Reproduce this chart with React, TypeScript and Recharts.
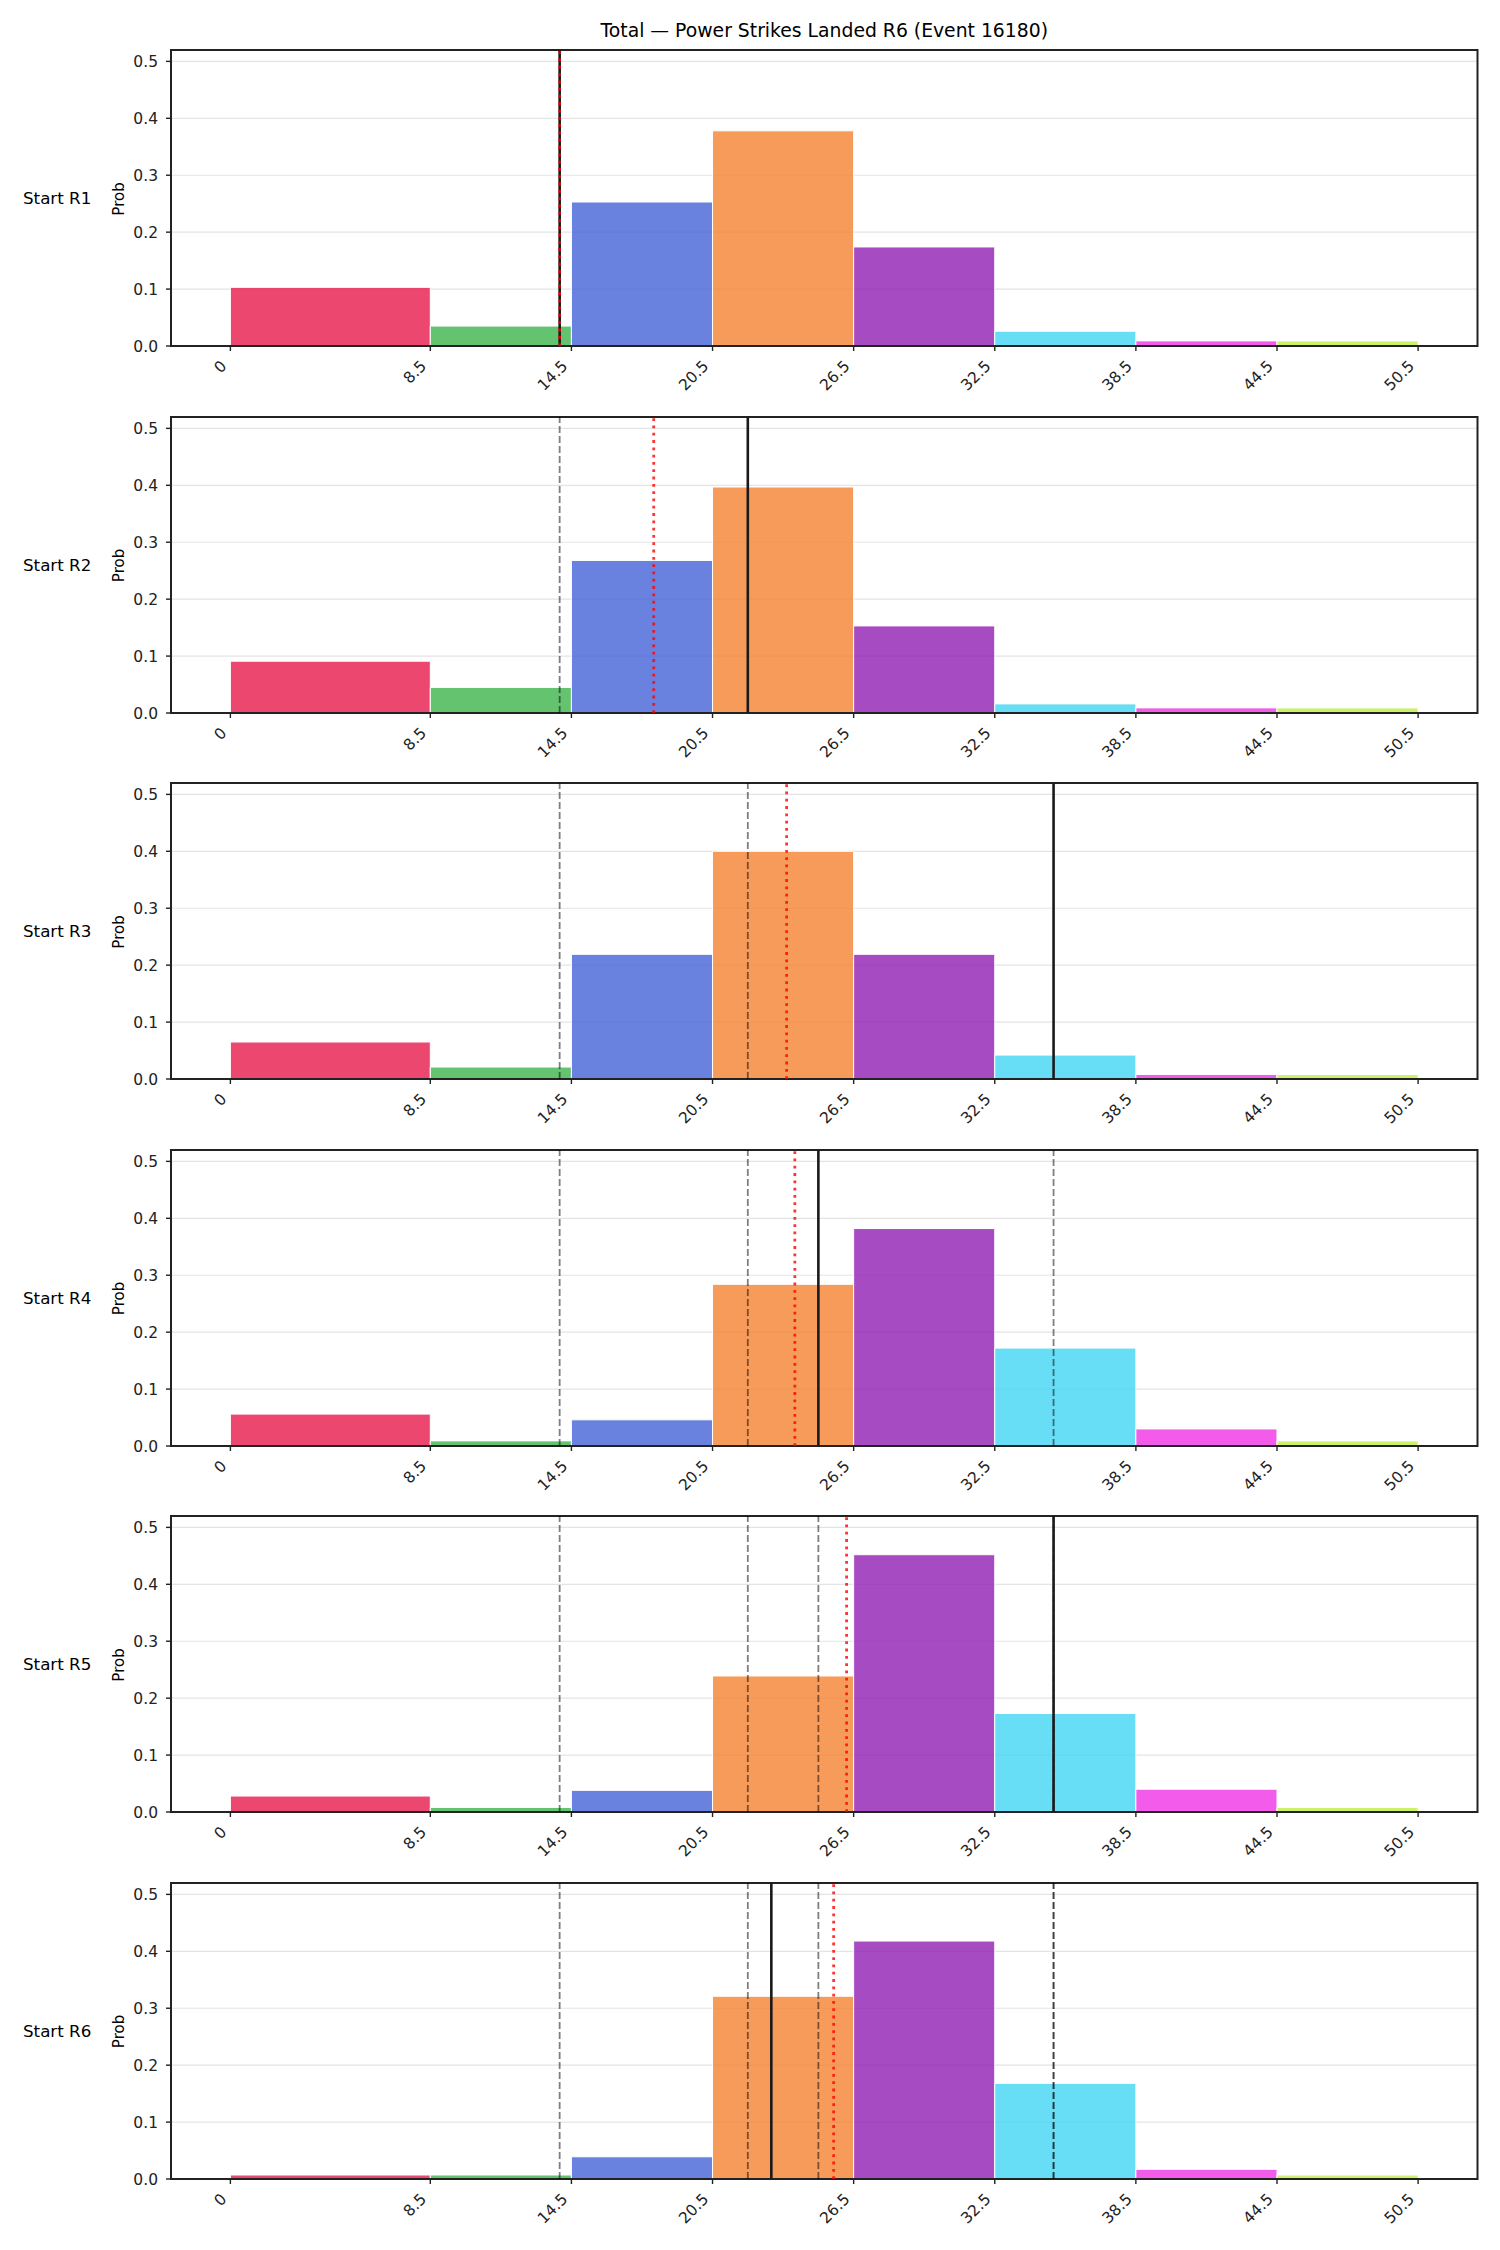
import {
  ComposedChart, XAxis, YAxis, CartesianGrid, ReferenceArea, ReferenceLine,
} from 'recharts'

const TITLE = 'Total — Power Strikes Landed R6 (Event 16180)'
const ROUND_LABELS = ['Start R1', 'Start R2', 'Start R3', 'Start R4', 'Start R5', 'Start R6']

// bin edges of the histogram (also the x tick positions)
const BIN_EDGES = [0, 8.5, 14.5, 20.5, 26.5, 32.5, 38.5, 44.5, 50.5]
const X_TICK_LABELS = ['0', '8.5', '14.5', '20.5', '26.5', '32.5', '38.5', '44.5', '50.5']
const Y_TICKS = [0, 0.1, 0.2, 0.3, 0.4, 0.5]
const BIN_COLORS = ['#e6194b', '#3cb44b', '#4363d8', '#f58231', '#911eb4', '#42d4f4', '#f032e6', '#bfef45']

// probability per bin, one list per starting round
const PROB_R1 = [0.103, 0.035, 0.253, 0.378, 0.174, 0.026, 0.009, 0.009]
const PROB_R2 = [0.091, 0.045, 0.268, 0.397, 0.153, 0.016, 0.009, 0.009]
const PROB_R3 = [0.065, 0.021, 0.219, 0.400, 0.219, 0.042, 0.008, 0.008]
const PROB_R4 = [0.056, 0.009, 0.046, 0.284, 0.382, 0.172, 0.030, 0.009]
const PROB_R5 = [0.028, 0.008, 0.038, 0.239, 0.452, 0.173, 0.040, 0.008]
const PROB_R6 = [0.007, 0.007, 0.039, 0.321, 0.418, 0.168, 0.017, 0.007]

// actual landed total per round (solid line, earlier rounds dashed)
const ACTUALS = [14, 22, 35, 25, 35, 23]
// projected mean per round (red dotted)
const MEANS = [14.0, 18.0, 23.65, 24.0, 26.2, 25.65]

const PROBS = [PROB_R1, PROB_R2, PROB_R3, PROB_R4, PROB_R5, PROB_R6]

const X_DOMAIN: [number, number] = [-2.525, 53.025]
const Y_DOMAIN: [number, number] = [0, 0.52]
const FONT = 'DejaVu Sans'
const TICK_FONT = 15.5

function XTick(props: any) {
  const { x, y, payload } = props
  const idx = BIN_EDGES.indexOf(payload.value)
  return (
    <text
      transform={`translate(${x - 3},${y + 16}) rotate(-45)`}
      textAnchor="end"
      fontSize={TICK_FONT}
      fontFamily={FONT}
      fill="#222"
    >
      {X_TICK_LABELS[idx]}
    </text>
  )
}

function Panel({ round }: { round: number }) {
  const probs = PROBS[round]
  const rows = probs.map((p, i) => ({ mid: (BIN_EDGES[i] + BIN_EDGES[i + 1]) / 2, p }))
  const previous = ACTUALS.slice(0, round)

  return (
    <ComposedChart
      width={1500}
      height={366}
      data={rows}
      margin={{ top: 10, right: 22.5, left: 111, bottom: 10 }}
    >
      <CartesianGrid vertical={false} stroke="#e4e4e4" strokeWidth={1.2} />
      <XAxis
        type="number"
        dataKey="mid"
        domain={X_DOMAIN}
        ticks={BIN_EDGES}
        interval={0}
        allowDataOverflow
        axisLine={false}
        tickLine={{ stroke: '#222', strokeWidth: 1.4 }}
        tickSize={5}
        tickMargin={0}
        height={50}
        tick={<XTick />}
      />
      <YAxis
        type="number"
        domain={Y_DOMAIN}
        ticks={Y_TICKS}
        allowDataOverflow
        width={60}
        axisLine={false}
        tickLine={{ stroke: '#222', strokeWidth: 1.4 }}
        tickSize={5}
        tickMargin={8}
        tickFormatter={(v: number) => v.toFixed(1)}
        tick={{ fontSize: TICK_FONT, fill: '#222', fontFamily: FONT }}
      />
      {probs.map((p, j) => (
        <ReferenceArea
          key={`bin-${j}`}
          x1={BIN_EDGES[j]}
          x2={BIN_EDGES[j + 1]}
          y1={0}
          y2={p}
          fill={BIN_COLORS[j]}
          fillOpacity={0.8}
          stroke="#ffffff"
          strokeWidth={1}
          ifOverflow="visible"
        />
      ))}
      {previous.map((v, j) => (
        <ReferenceLine
          key={`prev-${j}`}
          x={v}
          stroke="#000"
          strokeOpacity={0.5}
          strokeWidth={1.8}
          strokeDasharray="7 3"
        />
      ))}
      <ReferenceLine x={ACTUALS[round]} stroke="#1a1a1a" strokeWidth={2.6} />
      <ReferenceLine
        x={MEANS[round]}
        stroke="#ff0000"
        strokeOpacity={0.8}
        strokeWidth={2.8}
        strokeDasharray="2.8 4.5"
      />
      <ReferenceArea
        x1={X_DOMAIN[0]}
        x2={X_DOMAIN[1]}
        y1={Y_DOMAIN[0]}
        y2={Y_DOMAIN[1]}
        fill="none"
        fillOpacity={0}
        stroke="#222"
        strokeWidth={2}
        ifOverflow="visible"
      />
    </ComposedChart>
  )
}

const PANEL_TOP = 50
const PANEL_STEP = 366.5
const PANEL_HEIGHT = 296

export default function App() {
  return (
    <div
      style={{
        position: 'absolute', left: 0, top: 0, width: 1500, height: 2250,
        background: '#fff', fontFamily: FONT,
      }}
    >
      {ROUND_LABELS.map((_, i) => (
        <div key={i} style={{ position: 'absolute', left: 0, top: PANEL_TOP - 10 + PANEL_STEP * i }}>
          <Panel round={i} />
        </div>
      ))}
      <svg
        width={1500}
        height={2250}
        style={{ position: 'absolute', left: 0, top: 0, pointerEvents: 'none' }}
      >
        <text x={824.25} y={37} textAnchor="middle" fontSize={18.8} fontFamily={FONT} fill="#000">
          {TITLE}
        </text>
        {ROUND_LABELS.map((label, i) => {
          const mid = PANEL_TOP + PANEL_STEP * i + PANEL_HEIGHT / 2
          return (
            <g key={label}>
              <text x={23} y={mid + 6} fontSize={16.7} fontFamily={FONT} fill="#000">
                {label}
              </text>
              <text
                transform={`translate(124,${mid + 1}) rotate(-90)`}
                textAnchor="middle"
                fontSize={15}
                fontFamily={FONT}
                fill="#000"
              >
                Prob
              </text>
            </g>
          )
        })}
      </svg>
    </div>
  )
}
